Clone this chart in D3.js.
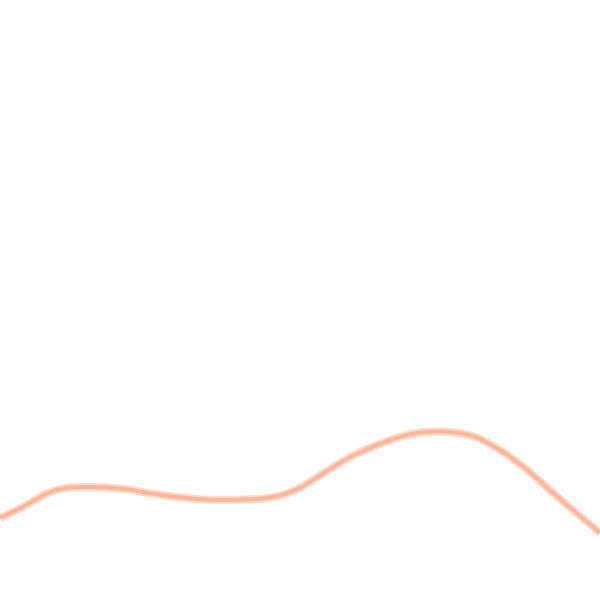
<!DOCTYPE html>
<html>
<head>
<meta charset="utf-8">
<script src="https://cdn.jsdelivr.net/npm/d3@7"></script>
<style>
  body { margin: 0; background: #fff; }
</style>
</head>
<body>
<div id="vis"></div>
<script>
var WIDTH = 600
var HEIGHT = 600

// sample positions along the curve and its height (0-100 scale)
var xValues = [0, 25, 50, 75, 100, 125, 150, 175, 200, 225, 250, 275, 300,
               325, 350, 375, 400, 425, 450, 475, 500, 525, 550, 575, 600];
var yValues = [13.7, 15.7, 18.0, 18.8, 18.8, 18.5, 17.8, 17.2, 16.8, 16.7, 16.8, 17.2, 18.7,
               21.3, 23.8, 25.7, 27.2, 28.0, 28.0, 27.2, 25.0, 22.0, 18.3, 14.7, 11.2];

var points = xValues.map((x, i) => ({ x: x, y: yValues[i] }));

var x = d3.scaleLinear().domain([0, 600]).range([0, WIDTH]);
var y = d3.scaleLinear().domain([0, 100]).range([HEIGHT, 0]);

const svg = d3.select('#vis').append('svg')
    .attr('width', WIDTH)
    .attr('height', HEIGHT);

var line = d3.line()
    .x(d => x(d.x))
    .y(d => y(d.y))
    .curve(d3.curveNatural);

// soft halo
svg.append('path')
    .datum(points)
    .attr('d', line)
    .attr('fill', 'none')
    .attr('stroke', '#fdd9c6')
    .attr('stroke-width', 8);

// main stroke
svg.append('path')
    .datum(points)
    .attr('d', line)
    .attr('fill', 'none')
    .attr('stroke', '#fcb69c')
    .attr('stroke-width', 4);
</script>
</body>
</html>
